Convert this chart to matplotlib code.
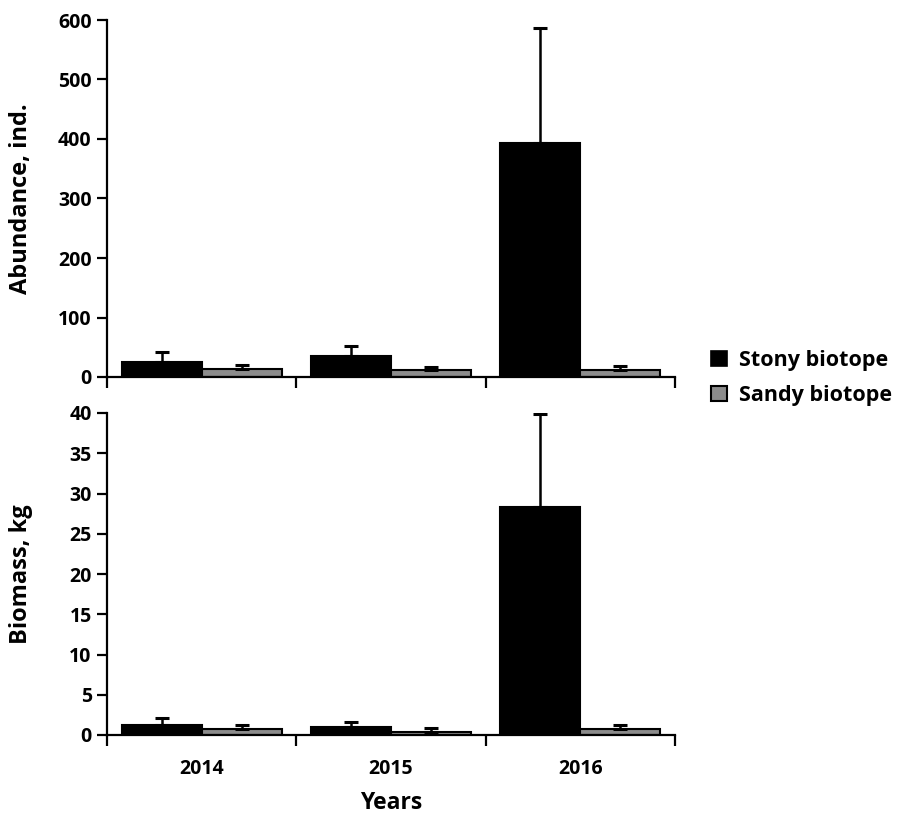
import matplotlib
matplotlib.use("Agg")
import matplotlib.pyplot as plt
import numpy as np
from matplotlib.patches import Patch

years = ["2014", "2015", "2016"]
abund_stony = [25, 35, 393]
abund_stony_err = [17, 17, 193]
abund_sandy = [13, 11, 12]
abund_sandy_err = [7, 5, 7]
bio_stony = [1.25, 1.0, 28.3]
bio_stony_err = [0.8, 0.6, 11.6]
bio_sandy = [0.75, 0.4, 0.8]
bio_sandy_err = [0.5, 0.45, 0.4]

plt.rcParams['font.family'] = ['Open Sans', 'DejaVu Sans']
plt.rcParams['font.weight'] = 'bold'

W, H = 901, 816
fig = plt.figure(figsize=(W/100, H/100), dpi=100)
L, R = 107, 675
ax1 = fig.add_axes([L/W, 1-377/H, (R-L)/W, (377-20)/H])
ax2 = fig.add_axes([L/W, 1-735/H, (R-L)/W, (735-413)/H])

x = np.arange(len(years))
w = 0.423
black = "#000000"
gray = "#8c8c8c"

def draw(ax, s, se, d, de, ymax, step):
    ax.bar(x - w/2, s, w, color=black, edgecolor=black, linewidth=1.5, zorder=2)
    ax.bar(x + w/2, d, w, color=gray, edgecolor=black, linewidth=1.5, zorder=2)
    ax.errorbar(x - w/2, s, yerr=[np.zeros(3), se], fmt='none', ecolor=black,
                elinewidth=1.8, capsize=5, capthick=2.2, zorder=3)
    ax.errorbar(x + w/2, d, yerr=[np.zeros(3), de], fmt='none', ecolor=black,
                elinewidth=1.8, capsize=5, capthick=2.2, zorder=3)
    ax.set_xlim(-0.5, 2.5)
    ax.set_ylim(0, ymax)
    ax.set_yticks(np.arange(0, ymax + step/2, step))
    for sp in ['top', 'right']:
        ax.spines[sp].set_visible(False)
    for sp in ['left', 'bottom']:
        ax.spines[sp].set_linewidth(1.6)
    ax.set_xticks(x)
    ax.set_xticks([-0.5, 0.5, 1.5, 2.5], minor=True)
    ax.tick_params(axis='x', which='major', length=0, pad=17, labelsize=14)
    ax.tick_params(axis='x', which='minor', length=8, width=1.6, direction='out')
    ax.tick_params(axis='y', length=7, width=1.6, direction='out', labelsize=14, pad=4)
    for lab in ax.get_yticklabels():
        lab.set_fontweight('bold')

draw(ax1, abund_stony, abund_stony_err, abund_sandy, abund_sandy_err, 600, 100)
draw(ax2, bio_stony, bio_stony_err, bio_sandy, bio_sandy_err, 40, 5)

ax1.set_xticklabels([])
ax2.set_xticklabels(years, fontweight='bold')
ax1.set_ylabel("Abundance, ind.", fontsize=17, fontweight='bold')
ax2.set_ylabel("Biomass, kg", fontsize=17, fontweight='bold')
ax1.yaxis.set_label_coords(-74/(R-L), 0.5)
ax2.yaxis.set_label_coords(-74/(R-L), 0.5)
ax2.set_xlabel("Years", fontsize=16.5, fontweight='bold', labelpad=9)

handles = [Patch(facecolor=black, edgecolor=black, linewidth=1.2),
           Patch(facecolor=gray, edgecolor=black, linewidth=1.5)]
fig.legend(handles, ["Stony biotope", "Sandy biotope"], loc='center left',
           bbox_to_anchor=(700/W, 1-378/H), frameon=False, borderpad=0,
           prop={'size': 15.5, 'weight': 'bold'}, handlelength=0.75, handleheight=0.75,
           handletextpad=0.55, labelspacing=0.65)

fig.savefig("out.png", dpi=100)
